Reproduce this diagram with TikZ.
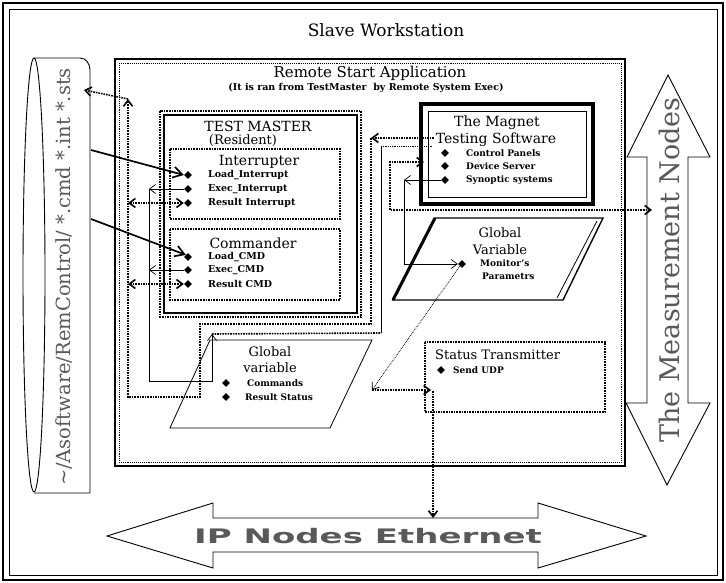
\documentclass[tikz,border=0pt]{standalone}
\usepackage{fontspec}
\setmainfont{DejaVu Serif}
\newfontfamily\heavysans{DejaVu Sans}
\usetikzlibrary{arrows.meta,shapes.geometric}
\begin{document}
\begin{tikzpicture}[x=1pt,y=-1pt,
  dl/.style={densely dotted, line width=1.6pt},
  tl/.style={densely dotted, line width=0.8pt},
  sl/.style={line width=0.7pt},
  >={Straight Barb[length=6pt,width=9pt]},
  bul/.style={diamond, fill=black, inner sep=0pt, minimum size=8pt},
  itm/.style={font=\fontsize{9.5}{9.5}\selectfont\bfseries, anchor=west, inner sep=0pt},
  hd/.style={inner sep=0pt},
  hatch/.style={text=black!65}
]
\useasboundingbox (0,0) rectangle (726,583);
% outer frame
\draw[line width=2pt] (3,3) rectangle (723,580);
\draw[line width=0.8pt] (9,9) rectangle (717,575);
\node[hd, font=\fontsize{17}{17}\selectfont] (title) at (386,30) {Slave Workstation};

% remote start application
\draw[line width=1.3pt] (115,59) rectangle (625,466);
\draw[densely dotted, line width=0.9pt] (119,63) rectangle (621,462);
\node[hd, font=\fontsize{15}{15}\selectfont] (rsa) at (370,73) {Remote Start Application};
\node[hd, font=\fontsize{9.5}{9.5}\selectfont\bfseries] (rsasub) at (366,88) {(It is ran from TestMaster~ by Remote System Exec)};

% test master
\draw[dl] (160,111) rectangle (361,317);
\draw[line width=1.2pt] (164,115) rectangle (357,313);
\node[hd, font=\fontsize{14}{14}\selectfont] (tm) at (258,126) {TEST MASTER};
\node[hd, font=\fontsize{13}{13}\selectfont] (res) at (243,141) {(Resident)};

% interrupter
\draw[dl] (170,149) rectangle (340,219);
\node[hd, font=\fontsize{14}{14}\selectfont] (intr) at (259,162) {Interrupter};
\node[bul] (li) at (188,175) {};
\node[bul] (ei) at (188,189) {};
\node[bul] (ri) at (188,203) {};
\node[itm] (lit) at (208,175) {Load\_Interrupt};
\node[itm] (eit) at (208,189) {Exec\_Interrupt};
\node[itm] (rit) at (208,203) {Result Interrupt};

% commander
\draw[dl] (170,229) rectangle (340,300);
\node[hd, font=\fontsize{14}{14}\selectfont] (cmdr) at (253,243) {Commander};
\node[bul] (lc) at (188,257) {};
\node[bul] (ec) at (188,270) {};
\node[bul] (rc) at (188,284) {};
\node[itm] (lct) at (208,257) {Load\_CMD};
\node[itm] (ect) at (208,270) {Exec\_CMD};
\node[itm] (rct) at (208,284) {Result CMD};

% magnet testing software
\draw[line width=4pt] (421,104) rectangle (593,204);
\draw[line width=0.8pt] (428,111) rectangle (586,197);
\node[hd, font=\fontsize{14}{14}\selectfont] (mag1) at (497,123) {The Magnet};
\node[hd, font=\fontsize{14}{14}\selectfont] (mag2) at (496,140) {Testing Software};
\node[bul] (cp) at (445,153) {};
\node[bul] (dsv) at (445,166) {};
\node[bul] (sy) at (445,180) {};
\node[itm, font=\fontsize{9}{9}\selectfont\bfseries] (cpt) at (466,153) {Control Panels};
\node[itm, font=\fontsize{9}{9}\selectfont\bfseries] (dst) at (466,166) {Device Server};
\node[itm, font=\fontsize{9}{9}\selectfont\bfseries] (syt) at (466,180) {Synoptic systems};

% global variable (right)
\draw[line width=1.4pt] (435,218) -- (603,218) -- (563,300) -- (393,300) -- cycle;
\draw[line width=3pt] (435,218) -- (393,300);
\draw[line width=0.8pt] (597,221) -- (557,298);
\node[hd, font=\fontsize{13}{13}\selectfont] (gv1) at (500,233) {Global};
\node[hd, font=\fontsize{13}{13}\selectfont] (gv2) at (500,250) {Variable};
\node[bul] (mo) at (462,264) {};
\node[itm, font=\fontsize{9}{9}\selectfont\bfseries] (mot) at (480,263) {Monitor's};
\node[itm, font=\fontsize{9}{9}\selectfont\bfseries] (pat) at (482,276) {Parametrs};

% global variable (lower)
\draw[line width=0.8pt] (210,340) -- (372,340) -- (330,428) -- (170,428) -- cycle;
\node[hd, font=\fontsize{13}{13}\selectfont] (lg1) at (270,352) {Global};
\node[hd, font=\fontsize{13}{13}\selectfont] (lg2) at (270,368) {variable};
\node[bul] (cm) at (226,383) {};
\node[bul] (rs) at (226,397) {};
\node[itm, font=\fontsize{9}{9}\selectfont\bfseries] (cmt) at (247,383) {Commands};
\node[itm, font=\fontsize{9}{9}\selectfont\bfseries] (rst) at (245,397) {Result Status};

% status transmitter
\draw[dl] (425,342) rectangle (605,412);
\node[itm, font=\fontsize{13}{13}\selectfont] (stt) at (435,355) {Status Transmitter};
\node[bul] (su) at (441,370) {};
\node[itm, font=\fontsize{9}{9}\selectfont\bfseries] (sut) at (453,370) {Send UDP};

% cylinder
\draw[line width=0.9pt] (34,275) ellipse [x radius=11, y radius=217];
\draw[line width=0.9pt] (34,58) -- (80,58) to[out=0,in=90] (90,70) -- (90,493) -- (34,493);
\node[hd, rotate=90, hatch, font=\fontsize{19.5}{19.5}\selectfont] (cyl) at (64,277) {\textasciitilde/Asoftware/RemControl/ *.cmd *.int *.sts};

% measurement nodes arrow
\draw[line width=0.9pt] (668,75) -- (710,157) -- (688,157) -- (688,403) -- (710,403) -- (667,485) -- (626,403) -- (647,403) -- (647,157) -- (627,157) -- cycle;
\node[hd, rotate=90, hatch, font=\fontsize{27}{27}\selectfont] (meas) at (669,270) {The Measurement Nodes};

% ethernet arrow
\draw[line width=0.9pt] (107,536) -- (213,503) -- (213,518) -- (538,518) -- (538,503) -- (646,536) -- (538,568) -- (538,552) -- (213,552) -- (213,568) -- cycle;
\node[hd, hatch, font=\heavysans\fontsize{20}{20}\selectfont\bfseries] (eth) at (368,536) {\scalebox{1.7}[1]{IP Nodes Ethernet}};

% ---- connectors ----
\coordinate (cylA) at (91,150);
\coordinate (cylB) at (91,219);
\draw[line width=1.7pt, -{Straight Barb[length=9pt,width=11pt]}] (cylA) -- (li.west);
\draw[line width=1.7pt, -{Straight Barb[length=9pt,width=11pt]}] (cylB) -- (lc.north west);

\coordinate (tj1) at (149,189);
\coordinate (tj2) at (149,270);
\coordinate (tb) at (149,381);
\coordinate (gvc) at (212,381);
\coordinate (gvt) at (212,334);
\draw[sl,->] (ei) -- (tj1);
\draw[sl,->] (ec) -- (tj2);
\draw[sl,->] (tj1) -- (tb) -- (gvc) -- (gvt);

\coordinate (rl1) at (128,203);
\coordinate (rl2) at (128,284);
\draw[dl,<->] (rl1) -- (ri.west);
\draw[dl,<->] (rl2) -- (rc.west);

\coordinate (ct) at (128,99);
\coordinate (cylS) at (84,90);
\coordinate (pa1) at (128,397);
\coordinate (pa2) at (200,397);
\coordinate (pa3) at (200,324);
\coordinate (pa4) at (371,324);
\coordinate (pa5) at (371,138);
\coordinate (mgin1) at (434,138);
\draw[dl,->] (mgin1) -- (pa5);
\draw[dl,->] (pa5) -- (pa4) -- (pa3) -- (pa2) -- (pa1) -- (ct);
\draw[dl,->] (ct) -- (cylS);

\coordinate (pb1) at (381,333);
\coordinate (pb2) at (381,146);
\coordinate (mgin2) at (432,146);
\draw[dl] (gvt) -- (pb1);
\draw[sl] (pb1) -- (pb2);
\draw[tl] (pb2) -- (mgin2);

\coordinate (dsin) at (424,162);
\coordinate (ds1) at (390,162);
\coordinate (ds2) at (390,210);
\coordinate (mn) at (652,210);
\draw[dl,<->] (dsin) -- (ds1) -- (ds2) -- (mn);

\coordinate (sy1) at (404,180);
\coordinate (sy2) at (404,264);
\draw[sl,->] (sy) -- (sy1);
\draw[sl,->] (sy1) -- (sy2) -- (mo.west);

\coordinate (st1) at (372,390);
\coordinate (stin) at (431,390);
\coordinate (sd1) at (433,391);
\coordinate (ethin) at (433,518);
\draw[tl,->] (mo.south west) -- (st1);
\draw[dl,->] (st1) -- (stin);
\draw[dl,->] (sd1) -- (ethin);
\end{tikzpicture}
\end{document}
